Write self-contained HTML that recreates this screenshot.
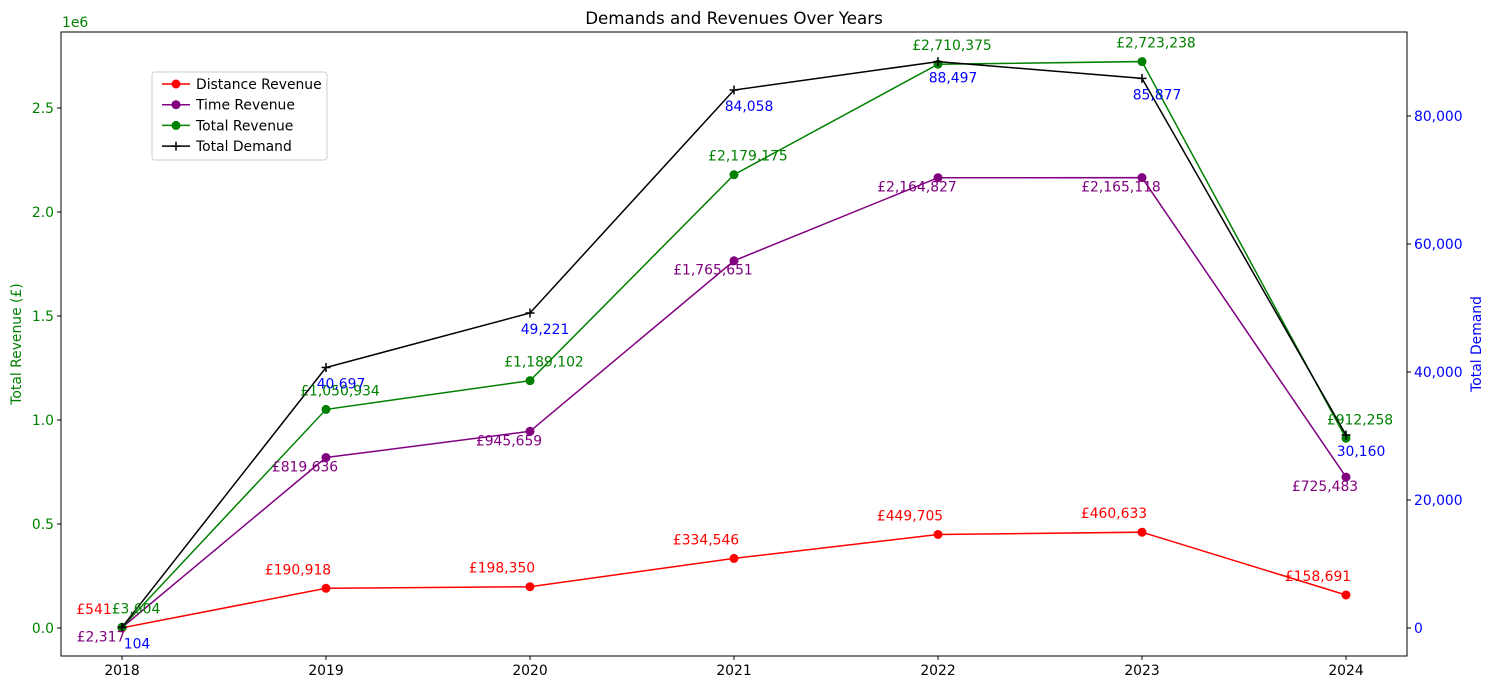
<!DOCTYPE html>
<html><head><meta charset="utf-8"><style>
body{margin:0;background:#fff;}
svg text{font-family:"DejaVu Sans","Liberation Sans",sans-serif;}
</style></head><body>
<svg id="c" width="1494" height="690" xmlns="http://www.w3.org/2000/svg"></svg>
<script>
const years=[2018,2019,2020,2021,2022,2023,2024];
const distanceRevenue=[541,190918,198350,334546,449705,460633,158691];
const timeRevenue=[2317,819636,945659,1765651,2164827,2165118,725483];
const totalRevenue=[3604,1050934,1189102,2179175,2710375,2723238,912258];
const totalDemand=[104,40697,49221,84058,88497,85877,30160];
const leftTicks=[0,0.5,1.0,1.5,2.0,2.5];
const rightTicks=[0,20000,40000,60000,80000];

const NS="http://www.w3.org/2000/svg";
const svg=document.getElementById('c');
const L=61,R=1407,T=32,B=656;
const FS=13.9;
const xs=y=>122+(y-2018)*204;
const yl=v=>628-v*208e-6;
const yr=v=>628-v*0.0064;
function el(tag,attrs,parent){const e=document.createElementNS(NS,tag);for(const k in attrs)e.setAttribute(k,attrs[k]);(parent||svg).appendChild(e);return e;}
function txt(s,attrs){const t=el('text',attrs);t.textContent=s;return t;}
const fmt=n=>n.toLocaleString('en-US');

const fr=el('rect',{x:L,y:T,width:R-L,height:B-T,fill:'none',stroke:'#000','stroke-width':1});


const tt=txt('Demands and Revenues Over Years',{x:734,y:24,'font-size':16.7,'text-anchor':'middle'});



years.forEach(y=>{
 el('line',{x1:xs(y),x2:xs(y),y1:B,y2:B+4,stroke:'#000'});
 const t=txt(String(y),{x:xs(y),y:B+19,'font-size':FS,'text-anchor':'middle'});
 
 
});
leftTicks.forEach(v=>{
 const y=yl(v*1e6);
 el('line',{x1:L-4,x2:L,y1:y,y2:y,stroke:'#000'});
 const t=txt(v.toFixed(1),{x:L-7,y:y+5,'font-size':FS,'text-anchor':'end',fill:'green'});
 
 
});
const oe=txt('1e6',{x:62,y:27,'font-size':FS,fill:'green'});


rightTicks.forEach(v=>{
 const y=yr(v);
 el('line',{x1:R,x2:R+4,y1:y,y2:y,stroke:'#000'});
 const t=txt(fmt(v),{x:R+7,y:y+5,'font-size':FS,fill:'blue'});
 
 
});
const ylt=txt('Total Revenue (£)',{x:0,y:0,'font-size':FS,fill:'green','text-anchor':'middle',transform:'translate(21,344) rotate(-90)'});


const yrt=txt('Total Demand',{x:0,y:0,'font-size':FS,fill:'blue','text-anchor':'middle',transform:'translate(1481,344) rotate(-90)'});



function series(data,yf,color,name,marker){
 const pts=data.map((v,i)=>[xs(years[i]),yf(v)]);
 const p=el('polyline',{points:pts.map(p=>p.join(',')).join(' '),fill:'none',stroke:color,'stroke-width':1.5});
 
 
 pts.forEach(q=>{
  let m;
  if(marker==='o'){m=el('circle',{cx:q[0],cy:q[1],r:4.5,fill:color});}
  else{m=el('path',{d:`M${q[0]-4.5},${q[1]}h9M${q[0]},${q[1]-4.5}v9`,stroke:color,'stroke-width':1.5});}
  
  
 });
 return pts;
}
function labels(data,pts,color,dx,dy,prefix,name){
 data.forEach((v,i)=>{
  const t=txt(prefix+fmt(v),{x:pts[i][0]+dx,y:pts[i][1]+dy+5,'font-size':FS,fill:color,'text-anchor':'middle'});
  
  
 });
}
const pd=series(distanceRevenue,yl,'red','distance-revenue','o');
const pt=series(timeRevenue,yl,'purple','time-revenue','o');
const ptot=series(totalRevenue,yl,'green','total-revenue','o');
const pdem=series(totalDemand,yr,'black','total-demand','+');
labels(distanceRevenue,pd,'red',-28,-19,'£','distance-revenue');
labels(timeRevenue,pt,'purple',-21,9,'£','time-revenue');
labels(totalRevenue,ptot,'green',14,-19,'£','total-revenue');
labels(totalDemand,pdem,'blue',15,16,'','total-demand');

const lg=el('g',{});


el('rect',{x:152,y:72,width:175,height:88,fill:'#fff',stroke:'#ccc',rx:3},lg);
const entries=[['Distance Revenue','red','o'],['Time Revenue','purple','o'],['Total Revenue','green','o'],['Total Demand','black','+']];
entries.forEach((e,i)=>{
 const y=84+i*20.7;
 const g=el('g',{},lg);
 
 
 el('line',{x1:162,x2:190,y1:y,y2:y,stroke:e[1],'stroke-width':1.5},g);
 if(e[2]==='o')el('circle',{cx:176,cy:y,r:4.5,fill:e[1]},g);
 else el('path',{d:`M171.5,${y}h9M176,${y-4.5}v9`,stroke:e[1],'stroke-width':1.5},g);
 const t=el('text',{x:196,y:y+5,'font-size':FS},g);t.textContent=e[0];
});
</script>
</body></html>
